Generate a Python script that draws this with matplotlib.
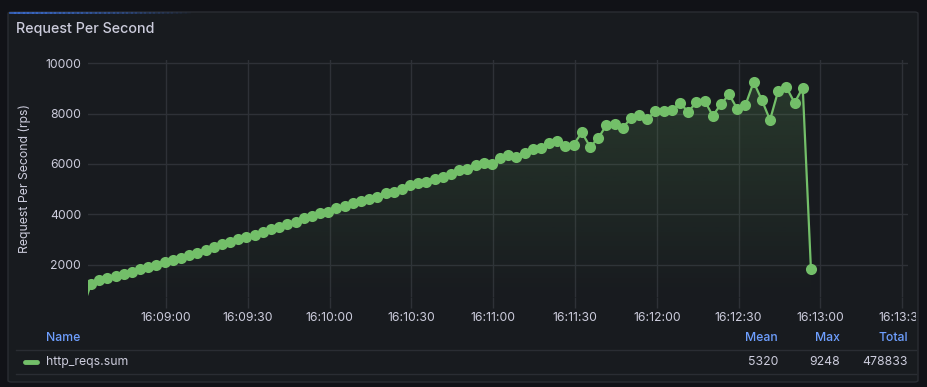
"""Grafana-style 'Request Per Second' panel recreated with matplotlib."""
import datetime as dt

import matplotlib
matplotlib.use("Agg")
import matplotlib.dates as mdates
import matplotlib.pyplot as plt
import numpy as np
from matplotlib.patches import FancyBboxPatch
from matplotlib.lines import Line2D
from matplotlib.transforms import Bbox, TransformedBbox

# --- Data ---
start_time = dt.datetime(2024, 1, 1, 16, 8, 29, 500000)
step_s = 3
rps = [
    300, 1248, 1406, 1473, 1578, 1644, 1736, 1828, 1934, 2000,
    2132, 2198, 2290, 2396, 2488, 2594, 2726, 2832, 2924, 3018,
    3097, 3188, 3319, 3414, 3517, 3612, 3715, 3850, 3940, 4048,
    4112, 4246, 4337, 4444, 4535, 4614, 4705, 4838, 4903, 4998,
    5168, 5236, 5299, 5406, 5497, 5604, 5762, 5802, 5960, 6051,
    6000, 6226, 6356, 6265, 6424, 6582, 6622, 6820, 6900, 6725,
    6770, 7250, 6686, 7018, 7545, 7580, 7438, 7810, 7941, 7782,
    8099, 8099, 8139, 8404, 8072, 8444, 8507, 7913, 8364, 8760,
    8178, 8337, 9248, 8535, 7743, 8903, 9038, 8428, 9022, 1842,
]
times = [start_time + dt.timedelta(seconds=step_s * i) for i in range(len(rps))]

y_ticks = [2000, 4000, 6000, 8000, 10000]
legend_cols = ["Mean", "Max", "Total"]
legend_vals = ["5320", "9248", "478833"]
series_name = "http_reqs.sum"

# --- Colours ---
page_bg = "#111217"
panel_bg = "#181b1f"
border = "#2a2d33"
grid_col = "#2e3137"
text_col = "#ccccdc"
green = "#73bf69"
blue = "#6e9fff"

W, H = 927, 387
plt.rcParams["font.family"] = ["Inter", "DejaVu Sans"]

fig = plt.figure(figsize=(W / 100, H / 100), dpi=100)
fig.patch.set_facecolor(page_bg)


def fx(x):
    return x / W


def fy(y):
    return 1 - y / H


# panel box
panel = FancyBboxPatch((fx(8), fy(382)), fx(910), 370 / H,
                       boxstyle="round,pad=0,rounding_size=0.004",
                       transform=fig.transFigure, facecolor=panel_bg,
                       edgecolor=border, linewidth=1, zorder=-5)
fig.patches.append(panel)
# blue highlight fading along the top edge
for i in range(40):
    x0 = 10 + i * 4.5
    fig.add_artist(Line2D([fx(x0), fx(x0 + 4.6)], [fy(12.5), fy(12.5)],
                          color="#3d71d9", alpha=max(0.0, 0.9 - i * 0.022),
                          linewidth=1.2, transform=fig.transFigure))

fig.text(fx(16), fy(29), "Request Per Second", color=text_col,
         fontsize=10.3, fontweight="medium", va="center", ha="left")

# --- Plot area ---
ax = fig.add_axes([fx(88), fy(297), (908 - 88) / W, (297 - 60) / H])
ax.set_facecolor("none")
for s in ax.spines.values():
    s.set_visible(False)

xnum = mdates.date2num(times)
ymin, ymax = 730, 10120
x_left = mdates.date2num(dt.datetime(2024, 1, 1, 16, 8, 31, 400000))
x_right = mdates.date2num(dt.datetime(2024, 1, 1, 16, 13, 32, 100000))

# opacity gradient fill under the line
poly = ax.fill_between(xnum, rps, ymin - 2000, color="none", linewidth=0)
grad = np.zeros((256, 1, 4))
grad[..., :3] = matplotlib.colors.to_rgb(green)
grad[:, 0, 3] = np.linspace(0.0, 0.2, 256)
im = ax.imshow(grad, extent=[x_left, x_right, ymin, ymax], origin="lower",
               aspect="auto", zorder=1, interpolation="bilinear")
im.set_clip_path(poly.get_paths()[0], transform=ax.transData)

ax.plot(xnum, rps, color=green, linewidth=1.6, marker="o", markersize=8,
        markeredgewidth=0, zorder=3)

ax.set_xlim(x_left, x_right)
ax.set_ylim(ymin, ymax)
ax.set_yticks(y_ticks)
ax.xaxis.set_major_locator(mdates.SecondLocator(bysecond=[0, 30]))
ax.xaxis.set_major_formatter(mdates.DateFormatter("%H:%M:%S"))
ax.grid(True, color=grid_col, linewidth=1)
ax.set_axisbelow(True)
ax.tick_params(axis="y", length=0, pad=5, labelsize=8.8, labelcolor=text_col)
ax.tick_params(axis="x", length=8, width=1, color=grid_col, pad=3,
               labelsize=8.8, labelcolor=text_col)
ax.set_ylabel("Request Per Second (rps)", color=text_col, fontsize=8.8,
              labelpad=10)

clip = TransformedBbox(Bbox([[0, 0], [fx(916), 1]]), fig.transFigure)
for lbl in ax.get_xticklabels():
    lbl.set_clip_box(clip)
    lbl.set_clip_on(True)

# --- Legend table ---
col_right = [778, 840, 908]
fig.text(fx(46), fy(338), "Name", color=blue, fontsize=8.8,
         fontweight="medium", va="center")
for name, xr in zip(legend_cols, col_right):
    fig.text(fx(xr), fy(338), name, color=blue, fontsize=8.8,
             fontweight="medium", va="center", ha="right")
for yl in (349.5, 373.5):
    fig.add_artist(Line2D([fx(16), fx(916)], [fy(yl), fy(yl)], color=border,
                          linewidth=1, transform=fig.transFigure))
fig.add_artist(Line2D([fx(25), fx(37)], [fy(362), fy(362)], color=green,
                      linewidth=3.5, solid_capstyle="round",
                      transform=fig.transFigure))
fig.text(fx(46), fy(362), series_name, color=text_col, fontsize=8.8,
         va="center")
for val, xr in zip(legend_vals, col_right):
    fig.text(fx(xr), fy(362), val, color=text_col, fontsize=8.8,
             va="center", ha="right")

fig.savefig("out.png", dpi=100, facecolor=page_bg)
